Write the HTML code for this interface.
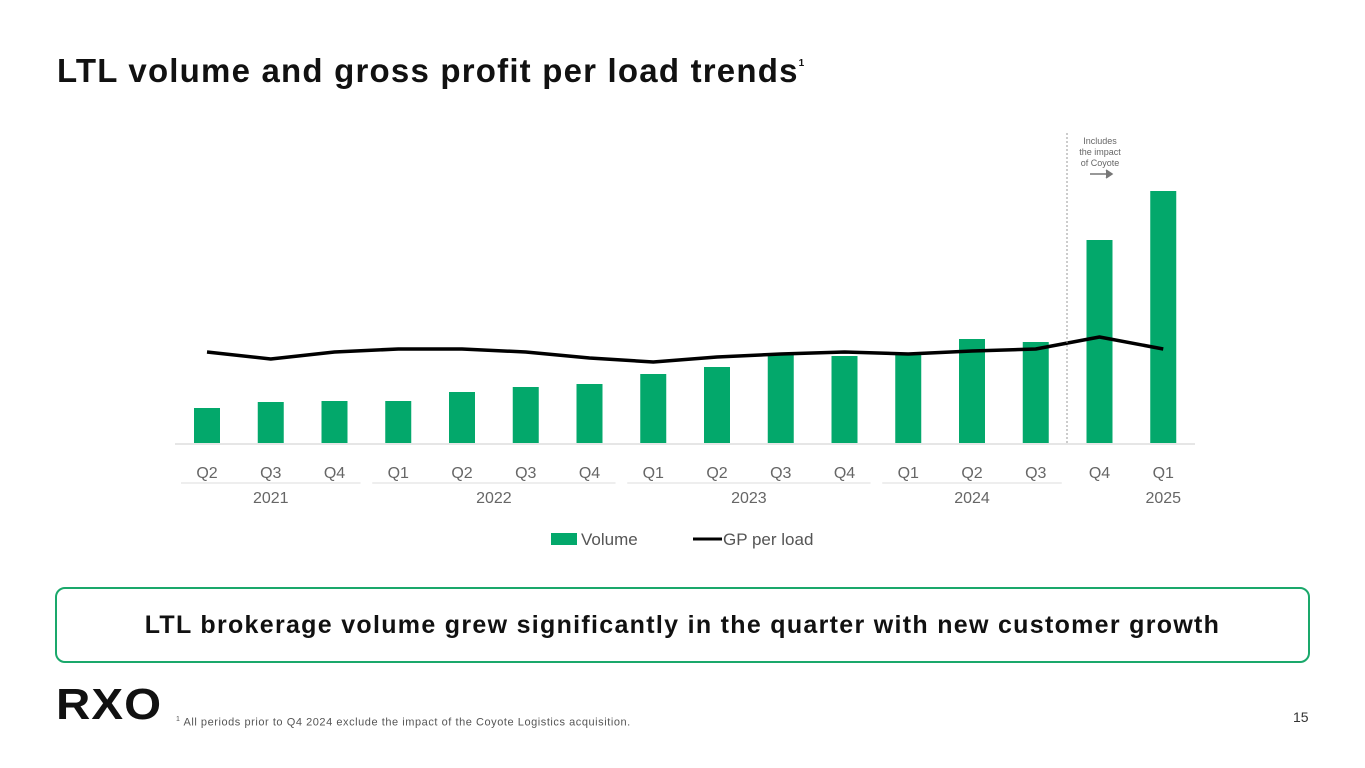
<!DOCTYPE html>
<html><head><meta charset="utf-8">
<style>
body{margin:0;width:1365px;height:768px;background:#fff;font-family:"Liberation Sans",sans-serif;position:relative;overflow:hidden}
.t{position:absolute}
</style></head><body>
<div class="t" style="left:57px;top:52px;font-size:33px;font-weight:bold;color:#111;letter-spacing:1.2px">LTL volume and gross profit per load trends<sup style="font-size:10px;vertical-align:top;position:relative;top:6px">1</sup></div>
<svg id="chart" class="t" style="left:0;top:0" width="1365" height="580"></svg>
<div class="t" style="left:55px;top:587px;width:1251px;height:72px;border:2px solid #1aa86b;border-radius:10px;text-align:center;line-height:72px;font-size:25px;font-weight:bold;color:#111;letter-spacing:1.3px">LTL brokerage volume grew significantly in the quarter with new customer growth</div>
<div class="t" style="left:56px;top:680px;font-size:44px;font-weight:900;letter-spacing:1px;color:#111;transform:scaleX(1.08);transform-origin:left">RXO</div>
<div class="t" style="left:176px;top:716px;font-size:11px;color:#555;letter-spacing:0.55px"><sup style="font-size:7px">1</sup> All periods prior to Q4 2024 exclude the impact of the Coyote Logistics acquisition.</div>
<div class="t" style="left:1293px;top:709px;font-size:14px;color:#333">15</div>
<script>
const categories=["Q2","Q3","Q4","Q1","Q2","Q3","Q4","Q1","Q2","Q3","Q4","Q1","Q2","Q3","Q4","Q1"];
const volume=[35,41,42,42,51,56,59,69,76,90,87,88,104,101,203,252];
const gpPerLoad=[91,84,91,94,94,91,85,81,86,89,91,89,92,94,106,94];
const years=["2021","2022","2023","2024","2025"];
const yearSpans=[[0,2],[3,6],[7,10],[11,13],[15,15]];
const svg=document.getElementById('chart');
const NS='http://www.w3.org/2000/svg';
const x0=207,step=63.75,base=443;
const xs=i=>x0+i*step;
const yv=v=>base-v;
const yg=v=>443-v;
function mk(t,a){const e=document.createElementNS(NS,t);for(const k in a)e.setAttribute(k,a[k]);svg.appendChild(e);return e;}
let ax=mk('line',{x1:175,x2:1195,y1:base+1,y2:base+1,stroke:'#e6e6e6','stroke-width':2});


volume.forEach((v,i)=>{
 const r=mk('rect',{x:xs(i)-13,y:yv(v),width:26,height:base-yv(v),fill:'#03a86b'});
 
 
});
const pts=gpPerLoad.map((v,i)=>xs(i)+','+yg(v)).join(' ');
const pl=mk('polyline',{points:pts,fill:'none',stroke:'#000','stroke-width':3.5,'stroke-linejoin':'round'});


categories.forEach((c,i)=>{
 const t=mk('text',{x:xs(i),y:478,'text-anchor':'middle','font-size':16,fill:'#666'});t.textContent=c;
 
 
});
years.forEach((y,k)=>{
 const [a,b]=yearSpans[k];const cx=(xs(a)+xs(b))/2;
 if(b>a){const l=mk('line',{x1:xs(a)-26,x2:xs(b)+26,y1:483,y2:483,stroke:'#ddd','stroke-width':1});
 
 }
 const t=mk('text',{x:cx,y:503,'text-anchor':'middle','font-size':16,fill:'#666'});t.textContent=y;
 
 
});
const dl=mk('line',{x1:1067,x2:1067,y1:133,y2:443,stroke:'#999','stroke-width':1,'stroke-dasharray':'2,2'});


["Includes","the impact","of Coyote"].forEach((s,i)=>{const t=mk('text',{x:1100,y:144+i*11,'text-anchor':'middle','font-size':9,fill:'#666'});t.textContent=s;
 
 });
const ar=mk('path',{d:'M1090 174 H1110 M1106 170 L1112 174 L1106 178',stroke:'#777','stroke-width':1.5,fill:'#777'});


const lg1=mk('rect',{x:551,y:533,width:26,height:12,fill:'#03a86b'});


const lt1=mk('text',{x:581,y:545,'font-size':17,fill:'#555'});lt1.textContent='Volume';


const lg2=mk('line',{x1:693,x2:722,y1:539,y2:539,stroke:'#000','stroke-width':3});


const lt2=mk('text',{x:723,y:545,'font-size':17,fill:'#555'});lt2.textContent='GP per load';


</script>
</body></html>
